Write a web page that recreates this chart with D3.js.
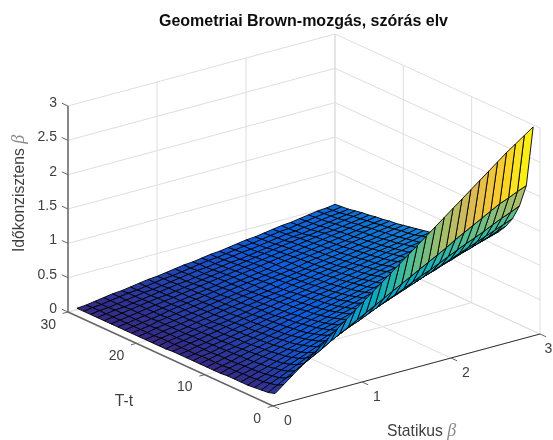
<!DOCTYPE html>
<html>
<head>
<meta charset="utf-8">
<script src="https://cdn.jsdelivr.net/npm/d3@7"></script>
<style>
  html, body { margin: 0; padding: 0; background: #fff; overflow: hidden; }
  text { font-family: "Liberation Sans", Arial, sans-serif; }
</style>
</head>
<body>
<div id="chart"></div>
<script>
'use strict';
var statikus = [0.1, 0.2, 0.3, 0.4, 0.5, 0.6, 0.7, 0.8, 0.9, 1.0, 1.1, 1.2, 1.3, 1.4, 1.5, 1.6, 1.7, 1.8, 1.9, 2.0, 2.1, 2.2, 2.3, 2.4, 2.5, 2.6, 2.7, 2.8, 2.9, 3.0];
var hatralevo = [1, 2, 3, 4, 5, 6, 7, 8, 9, 10, 11, 12, 13, 14, 15, 16, 17, 18, 19, 20, 21, 22, 23, 24, 25, 26, 27, 28, 29, 30];
// one row per T-t value, one column per statikus value
var idokonzisztens = [
  [.10, .20, .30, .40, .50, .60, .70, .80, .90, 1.00, 1.10, 1.20, 1.30, 1.40, 1.50, 1.60, 1.70, 1.80, 1.90, 2.00, 2.10, 2.20, 2.30, 2.40, 2.50, 2.60, 2.70, 2.79, 2.88, 2.97],
  [.07, .14, .21, .28, .35, .42, .49, .57, .64, .71, .78, .85, .92, .99, 1.06, 1.13, 1.20, 1.27, 1.34, 1.41, 1.48, 1.56, 1.63, 1.70, 1.77, 1.84, 1.91, 1.96, 2.02, 2.07],
  [.06, .12, .17, .23, .29, .35, .40, .46, .52, .58, .64, .69, .75, .81, .87, .92, .98, 1.04, 1.10, 1.15, 1.21, 1.27, 1.33, 1.39, 1.44, 1.50, 1.56, 1.62, 1.67, 1.73],
  [.05, .10, .15, .20, .25, .30, .35, .40, .45, .50, .55, .60, .65, .70, .75, .80, .85, .90, .95, 1.00, 1.05, 1.10, 1.15, 1.20, 1.25, 1.30, 1.35, 1.40, 1.45, 1.50],
  [.04, .09, .13, .18, .22, .27, .31, .36, .40, .45, .49, .54, .58, .63, .67, .72, .76, .80, .85, .89, .94, .98, 1.03, 1.07, 1.12, 1.16, 1.21, 1.25, 1.30, 1.34],
  [.04, .08, .12, .16, .20, .24, .29, .33, .37, .41, .45, .49, .53, .57, .61, .65, .69, .73, .78, .82, .86, .90, .94, .98, 1.02, 1.06, 1.10, 1.14, 1.18, 1.22],
  [.04, .08, .11, .15, .19, .23, .26, .30, .34, .38, .42, .45, .49, .53, .57, .60, .64, .68, .72, .76, .79, .83, .87, .91, .95, .98, 1.02, 1.06, 1.10, 1.13],
  [.04, .07, .11, .14, .18, .21, .25, .28, .32, .35, .39, .42, .46, .50, .53, .57, .60, .64, .67, .71, .74, .78, .81, .85, .88, .92, .95, .99, 1.03, 1.06],
  [.03, .07, .10, .13, .17, .20, .23, .27, .30, .33, .37, .40, .43, .47, .50, .53, .57, .60, .63, .67, .70, .73, .77, .80, .83, .87, .90, .93, .97, 1.00],
  [.03, .06, .09, .13, .16, .19, .22, .25, .28, .32, .35, .38, .41, .44, .47, .51, .54, .57, .60, .63, .66, .70, .73, .76, .79, .82, .85, .89, .92, .95],
  [.03, .06, .09, .12, .15, .18, .21, .24, .27, .30, .33, .36, .39, .42, .45, .48, .51, .54, .57, .60, .63, .66, .69, .72, .75, .78, .81, .84, .87, .90],
  [.03, .06, .09, .12, .14, .17, .20, .23, .26, .29, .32, .35, .38, .40, .43, .46, .49, .52, .55, .58, .61, .64, .66, .69, .72, .75, .78, .81, .84, .87],
  [.03, .06, .08, .11, .14, .17, .19, .22, .25, .28, .31, .33, .36, .39, .42, .44, .47, .50, .53, .55, .58, .61, .64, .67, .69, .72, .75, .78, .80, .83],
  [.03, .05, .08, .11, .13, .16, .19, .21, .24, .27, .29, .32, .35, .37, .40, .43, .45, .48, .51, .53, .56, .59, .61, .64, .67, .69, .72, .75, .78, .80],
  [.03, .05, .08, .10, .13, .15, .18, .21, .23, .26, .28, .31, .34, .36, .39, .41, .44, .46, .49, .52, .54, .57, .59, .62, .65, .67, .70, .72, .75, .77],
  [.03, .05, .08, .10, .13, .15, .18, .20, .23, .25, .28, .30, .33, .35, .38, .40, .43, .45, .48, .50, .53, .55, .58, .60, .63, .65, .68, .70, .73, .75],
  [.02, .05, .07, .10, .12, .15, .17, .19, .22, .24, .27, .29, .32, .34, .36, .39, .41, .44, .46, .49, .51, .53, .56, .58, .61, .63, .65, .68, .70, .73],
  [.02, .05, .07, .09, .12, .14, .16, .19, .21, .24, .26, .28, .31, .33, .35, .38, .40, .42, .45, .47, .49, .52, .54, .57, .59, .61, .64, .66, .68, .71],
  [.02, .05, .07, .09, .11, .14, .16, .18, .21, .23, .25, .28, .30, .32, .34, .37, .39, .41, .44, .46, .48, .50, .53, .55, .57, .60, .62, .64, .67, .69],
  [.02, .04, .07, .09, .11, .13, .16, .18, .20, .22, .25, .27, .29, .31, .34, .36, .38, .40, .42, .45, .47, .49, .51, .54, .56, .58, .60, .63, .65, .67],
  [.02, .04, .07, .09, .11, .13, .15, .17, .20, .22, .24, .26, .28, .31, .33, .35, .37, .39, .41, .44, .46, .48, .50, .52, .55, .57, .59, .61, .63, .65],
  [.02, .04, .06, .09, .11, .13, .15, .17, .19, .21, .23, .26, .28, .30, .32, .34, .36, .38, .41, .43, .45, .47, .49, .51, .53, .55, .58, .60, .62, .64],
  [.02, .04, .06, .08, .10, .13, .15, .17, .19, .21, .23, .25, .27, .29, .31, .33, .35, .38, .40, .42, .44, .46, .48, .50, .52, .54, .56, .58, .60, .62],
  [.02, .04, .06, .08, .10, .12, .14, .16, .18, .20, .22, .24, .27, .29, .31, .33, .35, .37, .39, .41, .43, .45, .47, .49, .51, .53, .55, .57, .59, .61],
  [.02, .04, .06, .08, .10, .12, .14, .16, .18, .20, .22, .24, .26, .28, .30, .32, .34, .36, .38, .40, .42, .44, .46, .48, .50, .51, .53, .55, .57, .59],
  [.02, .04, .06, .08, .10, .12, .14, .15, .17, .19, .21, .23, .25, .27, .29, .31, .33, .35, .37, .39, .41, .43, .45, .46, .48, .50, .52, .54, .56, .58],
  [.02, .04, .06, .07, .09, .11, .13, .15, .17, .19, .20, .22, .24, .26, .28, .30, .31, .33, .35, .37, .39, .41, .43, .44, .46, .48, .50, .52, .54, .56],
  [.02, .04, .05, .07, .09, .11, .13, .14, .16, .18, .20, .22, .24, .25, .27, .29, .31, .33, .34, .36, .38, .40, .42, .43, .45, .47, .49, .51, .52, .54],
  [.02, .04, .05, .07, .09, .11, .12, .14, .16, .18, .19, .21, .23, .25, .27, .28, .30, .32, .34, .35, .37, .39, .41, .42, .44, .46, .48, .50, .51, .53],
  [.02, .03, .05, .07, .09, .10, .12, .14, .16, .17, .19, .21, .23, .24, .26, .28, .29, .31, .33, .35, .36, .38, .40, .42, .43, .45, .47, .49, .50, .52]
];
var statikusTicks = [0, 1, 2, 3];
var hatralevoTicks = [0, 10, 20, 30];
var idoTicks = [0, 0.5, 1, 1.5, 2, 2.5, 3];
var parulaStops = [0, 0.111, 0.222, 0.333, 0.444, 0.556, 0.667, 0.778, 0.889, 1];
var parulaColors = ['#352a87', '#0f5cdd', '#127dd8', '#07a0cf', '#15b1b4', '#59bd8c', '#a5be6b', '#e1ba52', '#fccd2e', '#f9fb0e'];

var width = 553;
var height = 440;
var originX = 273;
var originY = 406;

// the box is an oblique projection, one pixel scale per data axis and screen direction
var xToDx = d3.scaleLinear().domain([0, 3]).range([0, 267]);
var xToDy = d3.scaleLinear().domain([0, 3]).range([0, -72]);
var tToDx = d3.scaleLinear().domain([0, 30]).range([0, -205]);
var tToDy = d3.scaleLinear().domain([0, 30]).range([0, -94]);
var zToDy = d3.scaleLinear().domain([0, 3]).range([0, -206]);

function project(x, t, z) {
  return [originX + xToDx(x) + tToDx(t), originY + xToDy(x) + tToDy(t) + zToDy(z)];
}

var colorScale = d3.scaleLinear()
  .domain(parulaStops.map(function(s) { return 0.02 + s * (2.97 - 0.02); }))
  .range(parulaColors)
  .clamp(true);

var line = d3.line();

var svg = d3.select('#chart').append('svg')
  .attr('width', width)
  .attr('height', height)
  .style('display', 'block');

svg.append('rect')
  .attr('width', '100%')
  .attr('height', '100%')
  .attr('fill', 'white');

// the reference is a slightly soft screenshot
svg.append('filter')
  .attr('id', 'soft')
  .attr('x', 0).attr('y', 0).attr('width', 1).attr('height', 1)
  .attr('filterUnits', 'objectBoundingBox')
  .append('feGaussianBlur')
  .attr('stdDeviation', 0.4);

var root = svg.append('g').attr('filter', 'url(#soft)');
root.append('rect')
  .attr('width', width)
  .attr('height', height)
  .attr('fill', 'white');

var grid = root.append('g')
  .attr('fill', 'none')
  .attr('stroke', '#dedede')
  .attr('stroke-width', 1);

function gridLine(a, b) {
  grid.append('path').attr('d', line([a, b]));
}

// back walls and floor
idoTicks.forEach(function(z) {
  gridLine(project(0, 30, z), project(3, 30, z));
  gridLine(project(3, 30, z), project(3, 0, z));
});
statikusTicks.forEach(function(x) {
  gridLine(project(x, 0, 0), project(x, 30, 0));
  gridLine(project(x, 30, 0), project(x, 30, 3));
});
hatralevoTicks.forEach(function(t) {
  gridLine(project(0, t, 0), project(3, t, 0));
  gridLine(project(3, t, 0), project(3, t, 3));
});

var textColor = '#404040';
var axes = root.append('g')
  .attr('fill', 'none')
  .attr('stroke', '#666')
  .attr('stroke-width', 1.5);

axes.append('path').attr('d', line([project(0, 30, 0), project(0, 30, 3)]));
axes.append('path').attr('d', line([project(0, 30, 0), project(0, 0, 0)]));
axes.append('path').attr('d', line([project(0, 0, 0), project(3, 0, 0)]))
  .attr('stroke', '#333')
  .attr('stroke-width', 1);

var ticks = axes.append('g').attr('stroke-width', 1);
idoTicks.forEach(function(z) {
  ticks.append('path').attr('d', line([project(0, 30, z), project(0, 30.9, z)]));
});
hatralevoTicks.forEach(function(t) {
  ticks.append('path').attr('d', line([project(0, t, 0), project(-0.06, t, 0)]));
});
statikusTicks.forEach(function(x) {
  ticks.append('path').attr('d', line([project(x, 0, 0), project(x, -0.9, 0)]));
});

// surface, painted from the far corner towards the viewer
var facets = [];
d3.range(statikus.length - 2, -1, -1).forEach(function(j) {
  d3.range(hatralevo.length - 2, -1, -1).forEach(function(i) {
    facets.push({i: i, j: j});
  });
});

root.append('g').selectAll('path')
  .data(facets)
  .enter().append('path')
  .attr('d', function(d) {
    var a = project(statikus[d.j], hatralevo[d.i], idokonzisztens[d.i][d.j]);
    var b = project(statikus[d.j + 1], hatralevo[d.i], idokonzisztens[d.i][d.j + 1]);
    var c = project(statikus[d.j + 1], hatralevo[d.i + 1], idokonzisztens[d.i + 1][d.j + 1]);
    var e = project(statikus[d.j], hatralevo[d.i + 1], idokonzisztens[d.i + 1][d.j]);
    return line([a, b, c, e]) + 'Z';
  })
  .attr('fill', function(d) { return colorScale(idokonzisztens[d.i][d.j]); })
  .attr('stroke', '#000')
  .attr('stroke-width', 0.9)
  .attr('stroke-linejoin', 'round');

// labels
var labels = root.append('g')
  .attr('fill', textColor)
  .attr('font-size', 14);

idoTicks.forEach(function(z) {
  var p = project(0, 30, z);
  labels.append('text')
    .attr('x', p[0] - 11)
    .attr('y', p[1] + 1)
    .attr('text-anchor', 'end')
    .text(z);
});
hatralevoTicks.forEach(function(t) {
  var p = project(0, t, 0);
  labels.append('text')
    .attr('x', p[0] - 12)
    .attr('y', p[1] + 16.5)
    .attr('text-anchor', 'end')
    .text(t);
});
statikusTicks.forEach(function(x) {
  var p = project(x, 0, 0);
  labels.append('text')
    .attr('x', Math.min(p[0] + 15, 548.5))
    .attr('y', p[1] + 18.5)
    .attr('text-anchor', 'middle')
    .text(x);
});

var betaStyle = function(sel) {
  sel.attr('font-family', '"Liberation Serif", serif')
    .attr('font-style', 'italic')
    .attr('font-size', 18)
    .attr('fill', '#8a8a8a');
};

var xLabel = labels.append('text')
  .attr('x', 387)
  .attr('y', 436)
  .attr('font-size', 15.7)
  .text('Statikus ');
xLabel.append('tspan').call(betaStyle).text('β');

labels.append('text')
  .attr('x', 124)
  .attr('y', 406)
  .attr('text-anchor', 'middle')
  .attr('font-size', 15.7)
  .text('T-t');

var zLabel = labels.append('text')
  .attr('transform', 'translate(24,252) rotate(-90)')
  .attr('font-size', 15.7)
  .text('Időkonzisztens ');
zLabel.append('tspan').call(betaStyle).text('β');

root.append('text')
  .attr('x', 303.5)
  .attr('y', 26)
  .attr('text-anchor', 'middle')
  .attr('font-size', 16)
  .attr('font-weight', 'bold')
  .attr('fill', '#111')
  .text('Geometriai Brown-mozgás, szórás elv');
</script>
</body>
</html>
